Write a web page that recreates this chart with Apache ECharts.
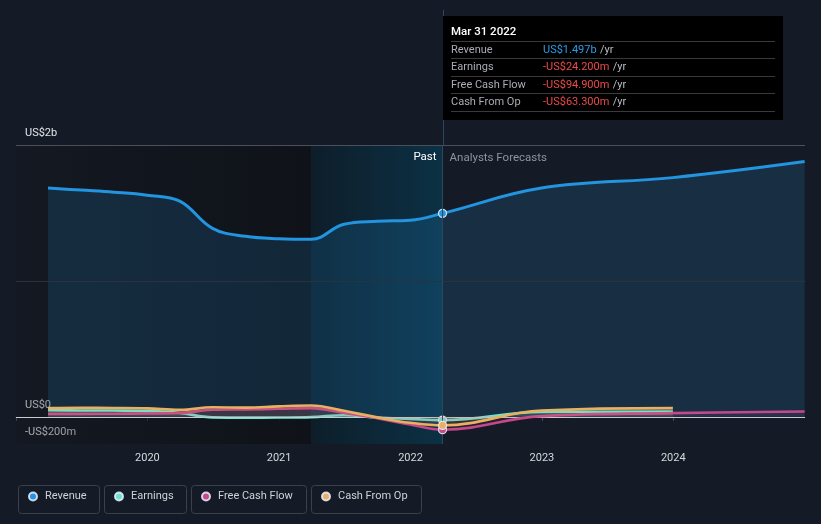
<!DOCTYPE html>
<html>
<head>
<meta charset="utf-8">
<script src="https://cdn.jsdelivr.net/npm/echarts@6/dist/echarts.min.js"></script>
<style>
html,body{margin:0;padding:0;background:#151b26;}
#chart{width:821px;height:524px;}
</style>
</head>
<body>
<div id="chart"></div>
<script>
// ---- Data (US$ millions) ----
const pastDates = ['2019-03-31','2019-06-30','2019-09-30','2019-12-31','2020-03-31','2020-06-30','2020-09-30','2020-12-31','2021-03-31','2021-06-30','2021-09-30','2021-12-31','2022-03-31'];
const forecastDates = ['2022-12-31','2023-12-31','2024-12-31'];

const revenuePast   = [1683,1668,1653,1631,1587,1387,1328,1310,1306,1417,1439,1446,1497];
const revenueFc     = [1683,1760,1878];
const earningsPast  = [48,47,46,44,28,-4,-6,-5,-2,12,-5,-15,-24.2];
const earningsFc    = [35,39];
const fcfPast       = [22,22,23,25,28,52,55,59,64,28,-10,-57,-94.9];
const fcfFc         = [5,27,39];
const cfoPast       = [64,66,65,62,51,70,68,77,83,44,-4,-44,-63.3];
const cfoFc         = [46,64];

const seriesNames = ['Revenue','Earnings','Free Cash Flow','Cash From Op'];
const seriesColors = ['#2394df','#6ee2d0','#c4488a','#e8b060'];
const yTickLabels = {'2000':'US$2b','0':'US$0','-200':'-US$200m'};
const xYears = ['2020','2021','2022','2023','2024'];

const tipDate = 'Mar 31 2022';
const tipValues = ['US$1.497b','-US$24.200m','-US$94.900m','-US$63.300m'];

const pastStart = '2019-01-01';
const highlightStart = '2021-03-31';
const nowDate = '2022-03-31';
const axisEnd = '2025-01-01';

const FONT = 'Roboto';
const FS = 11;

function build(past, fc) {
  const d = past.map((v, i) => {
    if (i === past.length - 1) {
      return { value: [pastDates[i], v], symbol: 'circle', symbolSize: 8 };
    }
    return [pastDates[i], v];
  });
  fc.forEach((v, i) => d.push([forecastDates[i], v]));
  return d;
}

const chart = echarts.init(document.getElementById('chart'), null, {renderer: 'canvas'});

const dataSets = [
  build(revenuePast, revenueFc),
  build(earningsPast, earningsFc),
  build(fcfPast, fcfFc),
  build(cfoPast, cfoFc)
];

const series = dataSets.map((data, k) => {
  const s = {
    name: seriesNames[k],
    type: 'line',
    data: data,
    smooth: 0.4,
    symbol: 'none',
    showSymbol: true,
    color: seriesColors[k],
    lineStyle: { width: k === 0 ? 3 : 2.6, color: seriesColors[k] },
    itemStyle: { color: seriesColors[k], borderColor: 'rgba(235,240,255,0.85)', borderWidth: 1.3 },
    areaStyle: { color: seriesColors[k], opacity: k === 0 ? 0.16 : 0.10 },
    emphasis: { disabled: true },
    silent: true,
    z: 3 + k
  };
  if (k === 0) {
    s.markArea = {
      silent: true,
      data: [
        [{ xAxis: pastStart,
           itemStyle: { color: new echarts.graphic.LinearGradient(0,0,1,0,[{offset:0,color:'rgba(14,17,22,0.25)'},{offset:1,color:'rgba(14,17,22,0.85)'}]) } },
         { xAxis: highlightStart }],
        [{ xAxis: highlightStart,
           itemStyle: { color: new echarts.graphic.LinearGradient(0,0,1,0,[{offset:0,color:'rgba(13,30,42,0.95)'},{offset:1,color:'rgba(11,50,70,0.95)'}]) },
           label: { show: true, position: 'insideTopRight', formatter: 'Past', color: '#ffffff', fontSize: 11.5, fontFamily: FONT, distance: 6 } },
         { xAxis: nowDate }],
        [{ xAxis: nowDate,
           itemStyle: { color: 'rgba(0,0,0,0)' },
           label: { show: true, position: 'insideTopLeft', formatter: 'Analysts Forecasts', color: '#8d949e', fontSize: 11.5, fontFamily: FONT, distance: 7 } },
         { xAxis: axisEnd }]
      ]
    };
    s.markLine = {
      silent: true,
      symbol: 'none',
      label: { show: false },
      data: [
        { yAxis: 2000, lineStyle: { color: '#4a505b', width: 1, type: 'solid' } },
        { yAxis: 1000, lineStyle: { color: '#2a323e', width: 1, type: 'solid' } },
        { yAxis: 0, lineStyle: { color: '#c9cbd0', width: 1.2, type: 'solid' } },
        { xAxis: nowDate, lineStyle: { color: '#2a4a5c', width: 1, type: 'solid' } }
      ]
    };
  }
  return s;
});

// legend boxes
const legendBoxes = [[16,81],[102,82],[189,115],[309,110]];
const legends = seriesNames.map((n, i) => ({
  data: [n],
  left: legendBoxes[i][0] + 12,
  top: 491,
  padding: 0,
  icon: 'circle',
  itemWidth: 8,
  itemHeight: 8,
  selectedMode: false,
  textStyle: { color: '#cfd2d6', fontSize: FS, fontFamily: FONT, padding: [0,0,0,3] }
}));

const graphic = [];
legendBoxes.forEach(b => {
  graphic.push({ type: 'rect', left: b[0], top: 483, shape: { width: b[1], height: 28, r: 3 },
    style: { fill: 'none', stroke: '#3b414c', lineWidth: 1 }, silent: true });
});
// vertical pointer line above grid
graphic.push({ type: 'line', shape: { x1: 443.5, y1: 10, x2: 443.5, y2: 145 }, style: { stroke: '#2a4a5c', lineWidth: 1 }, silent: true, z: 0 });
// tooltip box
const tipChildren = [
  { type: 'rect', shape: { x: 0, y: 0, width: 340, height: 104 }, style: { fill: '#000000' } },
  { type: 'text', x: 8, y: 16, style: { text: tipDate, fill: '#ffffff', fontSize: 11.5, fontWeight: 500, fontFamily: FONT, verticalAlign: 'middle' } }
];
const sepY = [25, 42, 60, 77, 95];
sepY.forEach(y => tipChildren.push({ type: 'line', shape: { x1: 8, y1: y + 0.5, x2: 332, y2: y + 0.5 }, style: { stroke: '#3a3a3a', lineWidth: 1 } }));
const rowY = [34, 51, 69, 86];
seriesNames.forEach((n, i) => {
  tipChildren.push({ type: 'text', x: 8, y: rowY[i], style: { text: n, fill: '#a9adb3', fontSize: FS, fontFamily: FONT, verticalAlign: 'middle' } });
  tipChildren.push({ type: 'text', x: 100, y: rowY[i], style: {
    text: '{v|' + tipValues[i] + '} {u|/yr}',
    verticalAlign: 'middle',
    rich: {
      v: { fill: i === 0 ? '#2c9be6' : '#ec4a4a', fontSize: FS, fontFamily: FONT },
      u: { fill: '#b8bcc2', fontSize: FS, fontFamily: FONT }
    } } });
});
graphic.push({ type: 'group', left: 443, top: 16, children: tipChildren, z: 100 });

chart.setOption({
  backgroundColor: '#151b26',
  animation: false,
  grid: { left: 16, right: 16, top: 145, bottom: 80 },
  xAxis: {
    type: 'time',
    min: pastStart,
    max: axisEnd,
    minInterval: 365 * 24 * 3600 * 1000,
    maxInterval: 366 * 24 * 3600 * 1000,
    axisLine: { lineStyle: { color: '#4a505a' } },
    axisTick: { show: true, length: 4, lineStyle: { color: '#4a505a' } },
    splitLine: { show: false },
    axisLabel: {
      color: '#d6d8dc', fontSize: 11, fontFamily: FONT, margin: 9,
      showMinLabel: false, showMaxLabel: false,
      formatter: function (val) {
        const y = String(new Date(val).getFullYear());
        return xYears.indexOf(y) >= 0 ? y : '';
      }
    }
  },
  yAxis: {
    type: 'value',
    min: -200,
    max: 2000,
    interval: 200,
    axisLine: { show: false },
    axisTick: { show: false },
    splitLine: { show: false },
    axisLabel: {
      inside: true,
      margin: 9,
      color: '#e2e4e8',
      fontSize: 11,
      fontFamily: FONT,
      verticalAlign: 'bottom',
      padding: [0, 0, 6, 0],
      formatter: function (v) { return yTickLabels[String(v)] || ''; }
    }
  },
  legend: legends,
  graphic: graphic,
  series: series
});
</script>
</body>
</html>
